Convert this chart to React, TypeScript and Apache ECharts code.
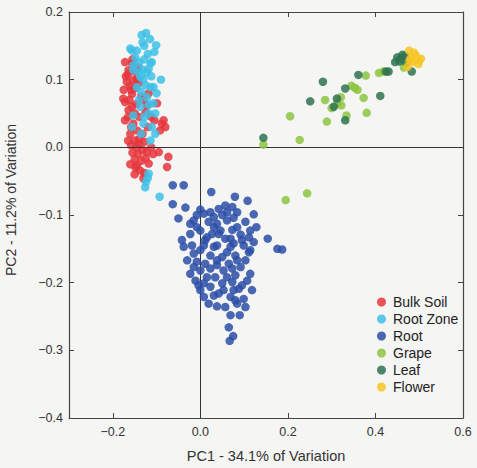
import React, { useEffect, useRef } from "react";
import * as echarts from "echarts";

const categories = ["Bulk Soil", "Root Zone", "Root", "Grape", "Leaf", "Flower"];
const colors = ["#e6353c", "#3dbfe6", "#2a4ea6", "#8cc43f", "#2f7350", "#f6c526"];

const xTicks = [-0.2, 0, 0.2, 0.4, 0.6];

const bulkSoil: number[][] = [
  [-0.172, 0.126], [-0.156, 0.124], [-0.164, 0.114], [-0.153, 0.099], [-0.145, 0.101], [-0.168, 0.097],
  [-0.161, 0.09], [-0.156, 0.079], [-0.176, 0.072], [-0.172, 0.067], [-0.156, 0.06], [-0.164, 0.055],
  [-0.146, 0.064], [-0.122, 0.062], [-0.099, 0.065], [-0.172, 0.04], [-0.153, 0.035], [-0.088, 0.035],
  [-0.08, 0.03], [-0.092, 0.025], [-0.16, 0.02], [-0.15, 0.01], [-0.14, 0.012], [-0.158, 0.003],
  [-0.145, 0.0], [-0.132, -0.004], [-0.122, -0.007], [-0.142, -0.01], [-0.15, -0.018], [-0.135, -0.02],
  [-0.125, -0.016], [-0.118, -0.024], [-0.148, -0.03], [-0.138, -0.034], [-0.128, -0.038], [-0.15, -0.04],
  [-0.095, -0.007], [-0.073, -0.014], [-0.076, -0.029], [-0.13, -0.046], [-0.165, 0.108], [-0.15, 0.112],
  [-0.158, 0.085], [-0.148, 0.088], [-0.162, 0.07], [-0.15, 0.05], [-0.14, 0.045], [-0.165, 0.045],
  [-0.158, 0.03], [-0.145, 0.025], [-0.132, 0.02], [-0.165, 0.01], [-0.155, -0.008], [-0.16, -0.025],
  [-0.14, 0.005], [-0.128, 0.008], [-0.112, 0.0], [-0.108, -0.01], [-0.12, 0.03], [-0.105, 0.04],
  [-0.135, 0.075], [-0.125, 0.052], [-0.155, 0.13], [-0.142, 0.118], [-0.13, 0.07], [-0.118, 0.08],
  [-0.112, 0.045], [-0.175, 0.085], [-0.17, 0.105], [-0.14, 0.095], [-0.084, 0.04], [-0.145, -0.027],
];

const rootZone: number[][] = [
  [-0.134, 0.166], [-0.124, 0.169], [-0.101, 0.151], [-0.105, 0.141], [-0.156, 0.143], [-0.145, 0.143],
  [-0.16, 0.146], [-0.111, 0.126], [-0.118, 0.116], [-0.09, 0.1], [-0.141, 0.111], [-0.153, 0.121],
  [-0.13, 0.101], [-0.145, 0.089], [-0.114, 0.089], [-0.122, 0.074], [-0.107, 0.065], [-0.137, 0.06],
  [-0.118, 0.05], [-0.103, 0.05], [-0.153, 0.047], [-0.13, 0.035], [-0.111, 0.03], [-0.156, 0.03],
  [-0.103, 0.02], [-0.114, 0.01], [-0.118, -0.039], [-0.124, -0.051], [-0.126, -0.059], [-0.093, -0.073],
  [-0.114, 0.124], [-0.122, 0.111], [-0.107, 0.089], [-0.137, 0.104], [-0.153, 0.114], [-0.128, 0.13],
  [-0.135, 0.082], [-0.125, 0.092], [-0.112, 0.105], [-0.14, 0.125], [-0.12, 0.138], [-0.148, 0.132],
  [-0.128, 0.15], [-0.115, 0.16], [-0.132, 0.155], [-0.1, 0.08], [-0.128, 0.045], [-0.14, 0.07],
  [-0.118, 0.063], [-0.135, 0.02], [-0.12, -0.045], [-0.131, 0.115],
];

const root: number[][] = [
  [-0.063, -0.056], [-0.038, -0.056], [0.025, -0.066], [0.079, -0.073], [0.108, -0.079], [-0.063, -0.084],
  [-0.034, -0.089], [-0.05, -0.105], [0.0, -0.092], [0.008, -0.098], [0.042, -0.091], [0.057, -0.086],
  [0.073, -0.088], [0.05, -0.1], [0.076, -0.104], [0.122, -0.099], [-0.015, -0.108], [0.019, -0.11],
  [0.031, -0.118], [0.0, -0.123], [0.046, -0.123], [0.073, -0.122], [0.128, -0.118], [0.092, -0.129],
  [-0.042, -0.137], [0.015, -0.133], [0.057, -0.135], [0.111, -0.133], [0.122, -0.14], [0.154, -0.135],
  [0.176, -0.15], [0.187, -0.151], [-0.038, -0.147], [-0.019, -0.145], [0.008, -0.145], [0.038, -0.145],
  [0.069, -0.147], [0.099, -0.145], [0.114, -0.152], [-0.015, -0.157], [0.023, -0.16], [0.05, -0.162],
  [0.08, -0.16], [0.103, -0.167], [-0.008, -0.169], [0.011, -0.172], [0.038, -0.174], [0.065, -0.172],
  [0.092, -0.177], [-0.023, -0.187], [-0.011, -0.197], [0.053, -0.182], [0.08, -0.189], [0.114, -0.187],
  [0.034, -0.192], [0.008, -0.201], [0.05, -0.201], [0.073, -0.199], [0.107, -0.197], [0.0, -0.211],
  [0.023, -0.206], [0.088, -0.209], [0.118, -0.211], [0.008, -0.221], [0.042, -0.216], [0.069, -0.221],
  [0.099, -0.224], [0.019, -0.231], [0.038, -0.235], [0.057, -0.236], [0.084, -0.231], [0.103, -0.236],
  [0.069, -0.248], [0.09, -0.248], [0.065, -0.266], [0.075, -0.279], [0.067, -0.286], [-0.023, -0.128],
  [-0.008, -0.118], [0.027, -0.128], [0.061, -0.108], [0.038, -0.113], [0.084, -0.118], [0.069, -0.135],
  [0.095, -0.137], [0.031, -0.147], [0.061, -0.155], [0.084, -0.167], [0.0, -0.182], [0.023, -0.179],
  [0.061, -0.192], [0.095, -0.204], [0.053, -0.211], [0.076, -0.211], [0.031, -0.219], [0.08, -0.226],
  [-0.015, -0.177], [-0.03, -0.167], [-0.004, -0.204], [0.011, -0.137], [0.042, -0.128], [0.114, -0.123],
  [0.103, -0.11], [0.061, -0.096], [0.023, -0.096], [-0.008, -0.1], [0.031, -0.103], [0.084, -0.096],
  [0.038, -0.167], [0.073, -0.179], [0.111, -0.155], [0.015, -0.192], [0.0, -0.152], [0.076, -0.142],
  [-0.023, -0.113],
];

const grape: number[][] = [
  [0.378, 0.106], [0.408, 0.11], [0.353, 0.088], [0.359, 0.085], [0.373, 0.073], [0.285, 0.07],
  [0.321, 0.074], [0.313, 0.065], [0.322, 0.062], [0.205, 0.046], [0.289, 0.038], [0.334, 0.047],
  [0.38, 0.051], [0.227, 0.011], [0.144, 0.004], [0.195, -0.078], [0.244, -0.068], [0.418, 0.112],
  [0.345, 0.091], [0.3, 0.058], [0.465, 0.118],
];

const leaf: number[][] = [
  [0.144, 0.014], [0.251, 0.068], [0.28, 0.097], [0.361, 0.107], [0.331, 0.087], [0.312, 0.072],
  [0.305, 0.06], [0.331, 0.04], [0.411, 0.076], [0.43, 0.112], [0.45, 0.133], [0.458, 0.131],
  [0.462, 0.137], [0.455, 0.127], [0.47, 0.125], [0.483, 0.112], [0.445, 0.126], [0.468, 0.135],
  [0.424, 0.112],
];

const flower: number[][] = [
  [0.477, 0.143], [0.492, 0.136], [0.5, 0.128], [0.485, 0.126], [0.473, 0.119], [0.498, 0.123],
  [0.481, 0.132], [0.504, 0.131], [0.488, 0.14], [0.478, 0.128],
];

const seriesData = [bulkSoil, rootZone, root, grape, leaf, flower];

const fmt = (v: number) => v.toFixed(1).replace("-", "\u2212");

export default function App() {
  const ref = useRef<HTMLDivElement>(null);
  useEffect(() => {
    if (!ref.current) return;
    const chart = echarts.init(ref.current, null, { renderer: "svg" });
    const axisColor = "#444";
    const font = "'Liberation Sans', Arial, sans-serif";
    const series: any[] = seriesData.map((d, i) => ({
      name: categories[i],
      type: "scatter",
      data: d,
      symbolSize: 8.5,
      itemStyle: { color: colors[i], opacity: 0.85 },
      z: 3 + i,
    }));
    series.unshift({
      type: "line",
      data: [],
      silent: true,
      markLine: {
        silent: true,
        symbol: "none",
        label: { show: false },
        lineStyle: { color: "#333", width: 1, type: "solid" },
        data: [{ xAxis: 0 }, { yAxis: 0 }],
      },
      z: 2,
    });
    chart.setOption({
      animation: false,
      backgroundColor: "#f5f5f4",
      textStyle: { fontFamily: font },
      grid: { left: 69, right: 14, top: 12, bottom: 50 },
      legend: {
        orient: "vertical",
        left: 372,
        top: 290,
        itemWidth: 9,
        itemHeight: 9,
        itemGap: 3,
        icon: "circle",
        data: categories,
        textStyle: { fontSize: 14, lineHeight: 14, color: "#222", fontFamily: font, padding: [0, 0, 0, 2] },
      },
      graphic: [
        {
          type: "text",
          x: 11,
          y: 200,
          rotation: Math.PI / 2,
          style: {
            text: "PC2 - 11.2% of Variation",
            fontSize: 14,
            fill: "#333",
            fontFamily: font,
            align: "center",
            verticalAlign: "middle",
          },
        },
      ],
      xAxis: [
        {
          type: "value",
          min: -0.3,
          max: 0.6,
          name: "PC1 - 34.1% of Variation",
          nameLocation: "middle",
          nameGap: 30,
          nameTextStyle: { fontSize: 14.5, color: "#333", fontFamily: font },
          splitLine: { show: false },
          axisLine: { show: true, onZero: false, lineStyle: { color: axisColor, width: 1.2 } },
          axisTick: { show: true, inside: true, length: 5, customValues: xTicks, lineStyle: { color: axisColor } },
          axisLabel: { customValues: xTicks, formatter: fmt, fontSize: 12.5, color: "#333", margin: 7 },
        },
        {
          type: "value",
          position: "top",
          min: -0.3,
          max: 0.6,
          splitLine: { show: false },
          axisLine: { show: true, onZero: false, lineStyle: { color: axisColor, width: 1.2 } },
          axisTick: { show: true, inside: true, length: 5, customValues: xTicks, lineStyle: { color: axisColor } },
          axisLabel: { show: false },
        },
      ],
      yAxis: [
        {
          type: "value",
          min: -0.4,
          max: 0.2,
          interval: 0.1,
          splitLine: { show: false },
          axisLine: { show: true, onZero: false, lineStyle: { color: axisColor, width: 1.2 } },
          axisTick: { show: true, inside: true, length: 5, lineStyle: { color: axisColor } },
          axisLabel: { formatter: fmt, fontSize: 12.5, color: "#333", margin: 6 },
        },
        {
          type: "value",
          position: "right",
          min: -0.4,
          max: 0.2,
          interval: 0.1,
          splitLine: { show: false },
          axisLine: { show: true, onZero: false, lineStyle: { color: axisColor, width: 1.2 } },
          axisTick: { show: true, inside: true, length: 5, lineStyle: { color: axisColor } },
          axisLabel: { show: false },
        },
      ],
      series,
    });
    return () => chart.dispose();
  }, []);
  return (
    <div
      ref={ref}
      style={{ position: "fixed", left: 0, top: 0, width: 477, height: 468 }}
    />
  );
}
